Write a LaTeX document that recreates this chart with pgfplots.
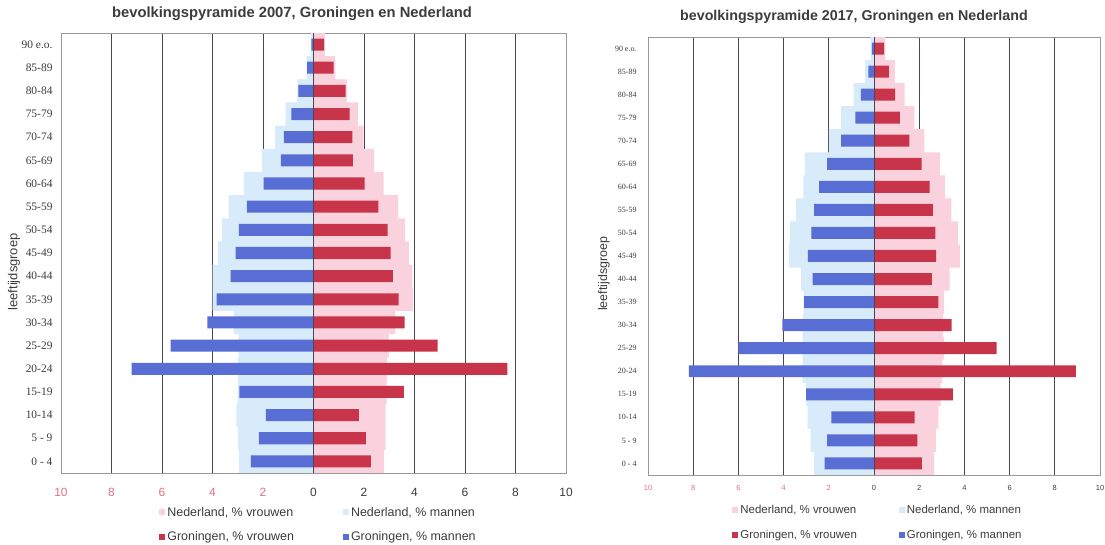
\documentclass[border=0pt]{standalone}
\usepackage{fontspec}
\setmainfont{Liberation Sans}
\newfontfamily\tickserif{Liberation Serif}
\usepackage{pgfplots}
\pgfplotsset{compat=1.18}
\usepackage{pgfplotstable}

\definecolor{grv}{RGB}{200,52,74}
\definecolor{grm}{RGB}{88,110,212}
\definecolor{nlv}{RGB}{250,210,222}
\definecolor{nlm}{RGB}{215,235,250}
\definecolor{negc}{RGB}{228,112,132}
\definecolor{gridc}{RGB}{75,68,85}
\definecolor{txt}{RGB}{60,60,60}

% 2007: women positive, men negative
\pgfplotstableread{
y nlv nlm grv grm
0 2.80 -2.95 2.27 -2.48
1 2.86 -3.00 2.07 -2.16
2 2.86 -3.05 1.80 -1.89
3 2.90 -3.00 3.58 -2.94
4 2.92 -3.00 7.68 -7.20
5 2.98 -2.97 4.92 -5.66
6 3.24 -3.15 3.61 -4.20
7 3.95 -4.00 3.37 -3.84
8 3.92 -4.00 3.14 -3.28
9 3.78 -3.78 3.05 -3.08
10 3.62 -3.62 2.94 -2.96
11 3.35 -3.36 2.57 -2.64
12 2.78 -2.76 2.02 -1.98
13 2.40 -2.04 1.56 -1.29
14 1.98 -1.52 1.54 -1.17
15 1.76 -1.10 1.43 -0.88
16 1.33 -0.64 1.27 -0.60
17 0.87 -0.27 0.80 -0.25
18 0.45 -0.10 0.42 -0.08
}\dataA

% 2017
\pgfplotstableread{
y nlv nlm grv grm
0 2.66 -2.65 2.12 -2.18
1 2.74 -2.80 1.92 -2.07
2 2.85 -2.94 1.80 -1.89
3 2.95 -3.00 3.49 -3.00
4 3.03 -3.16 8.93 -8.19
5 3.10 -3.16 5.43 -6.00
6 3.06 -3.16 3.43 -4.06
7 3.10 -3.11 2.85 -3.09
8 3.35 -3.23 2.56 -2.72
9 3.80 -3.76 2.75 -2.93
10 3.71 -3.71 2.72 -2.77
11 3.42 -3.45 2.60 -2.65
12 3.13 -3.13 2.46 -2.43
13 2.91 -3.06 2.11 -2.08
14 2.23 -2.00 1.56 -1.46
15 1.79 -1.46 1.14 -0.83
16 1.35 -0.90 0.93 -0.58
17 0.92 -0.39 0.66 -0.25
18 0.50 -0.15 0.45 -0.10
}\dataB

\pgfplotsset{
  pyr/.style={
    scale only axis,
    xbar,
    legend image code/.code={\fill[##1] (0bp,-3bp) rectangle (6bp,3bp);},
    xmin=-10, xmax=10, ymin=-0.5, ymax=18.5,
    xtick={-10,-8,...,10},
    xticklabels={{\color{negc}10},{\color{negc}8},{\color{negc}6},{\color{negc}4},{\color{negc}2},0,2,4,6,8,10},
    ytick={0,...,18},
    yticklabels={0 - 4,5 - 9,10-14,15-19,20-24,25-29,30-34,35-39,40-44,45-49,50-54,55-59,60-64,65-69,70-74,75-79,80-84,85-89,90 e.o.},
    major tick length=0pt,
    xmajorgrids,
    grid style={gridc, line width=1bp},
    axis line style={gray!80},
    ylabel={leeftijdsgroep},
    legend columns=2,
    legend cell align=left,
    legend style={draw=none, fill=none, at={(0.5,0)}, anchor=north, text=txt},
  },
}

\begin{document}
\begin{tikzpicture}[x=1bp,y=1bp]
\useasboundingbox (0,0) rectangle (1105,545);
\fill[white] (0,0) rectangle (1105,545);

% ---------------- 2007 ----------------
\begin{axis}[pyr,
  at={(61bp,72bp)}, anchor=south west,
  width=505bp, height=440bp,
  xticklabel style={font=\fontsize{12}{14}\selectfont, text=txt, yshift=-12bp},
  yticklabel style={font=\tickserif\fontsize{11.5}{13}\selectfont, text=txt, xshift=-5bp},
  every axis y label/.style={at={(rel axis cs:0,0.457)}, xshift=-47bp, rotate=90, anchor=center,
    font=\fontsize{13}{15}\selectfont, text=txt},
  legend style={yshift=-30bp, xshift=5bp, font=\fontsize{12.5}{14}\selectfont,
    /tikz/every even column/.append style={column sep=47bp}, row sep=10bp},
]
\addplot[xbar, bar shift=0pt, bar width=1, fill=nlv, draw=none] table[x=nlv,y=y]{\dataA};
\addlegendentry{Nederland, \% vrouwen}
\addplot[xbar, bar shift=0pt, bar width=1, fill=nlm, draw=none] table[x=nlm,y=y]{\dataA};
\addlegendentry{Nederland, \% mannen}
\addplot[xbar, bar shift=0pt, bar width=0.52, fill=grv, draw=none] table[x=grv,y=y]{\dataA};
\addlegendentry{Groningen, \% vrouwen}
\addplot[xbar, bar shift=0pt, bar width=0.52, fill=grm, draw=none] table[x=grm,y=y]{\dataA};
\addlegendentry{Groningen, \% mannen}
\draw[gridc, line width=0.9bp] (axis cs:0,-0.5) -- (axis cs:0,18.5);
\end{axis}
\node[font=\bfseries\fontsize{14.8}{17}\selectfont, text=txt] at (292,531) {bevolkingspyramide 2007, Groningen en Nederland};

% ---------------- 2017 ----------------
\begin{axis}[pyr,
  at={(648bp,70bp)}, anchor=south west,
  width=452bp, height=438bp,
  xticklabel style={font=\fontsize{7.5}{9}\selectfont, text=txt, yshift=-7bp},
  yticklabel style={font=\tickserif\fontsize{8}{10}\selectfont, text=txt, xshift=-8bp},
  every axis y label/.style={at={(rel axis cs:0,0.459)}, xshift=-44bp, rotate=90, anchor=center,
    font=\fontsize{12.5}{14}\selectfont, text=txt},
  legend style={yshift=-26bp, xshift=4bp, font=\fontsize{11.5}{14}\selectfont,
    /tikz/every even column/.append style={column sep=40bp}, row sep=11bp},
]
\addplot[xbar, bar shift=0pt, bar width=1, fill=nlv, draw=none] table[x=nlv,y=y]{\dataB};
\addlegendentry{Nederland, \% vrouwen}
\addplot[xbar, bar shift=0pt, bar width=1, fill=nlm, draw=none] table[x=nlm,y=y]{\dataB};
\addlegendentry{Nederland, \% mannen}
\addplot[xbar, bar shift=0pt, bar width=0.52, fill=grv, draw=none] table[x=grv,y=y]{\dataB};
\addlegendentry{Groningen, \% vrouwen}
\addplot[xbar, bar shift=0pt, bar width=0.52, fill=grm, draw=none] table[x=grm,y=y]{\dataB};
\addlegendentry{Groningen, \% mannen}
\draw[gridc, line width=0.9bp] (axis cs:0,-0.5) -- (axis cs:0,18.5);
\end{axis}
\node[font=\bfseries\fontsize{14.3}{17}\selectfont, text=txt] at (854,528) {bevolkingspyramide 2017, Groningen en Nederland};
\end{tikzpicture}
\end{document}
